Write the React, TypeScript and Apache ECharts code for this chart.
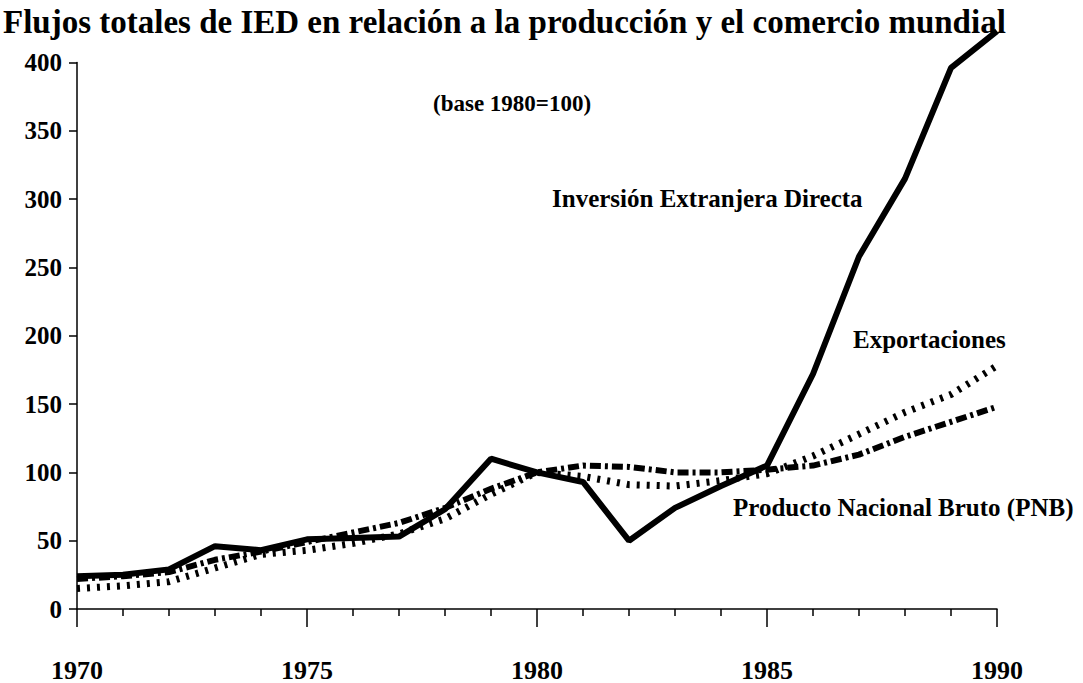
import React, { useEffect, useRef } from "react";
import * as echarts from "echarts";

const years = [1970, 1971, 1972, 1973, 1974, 1975, 1976, 1977, 1978, 1979, 1980, 1981, 1982, 1983, 1984, 1985, 1986, 1987, 1988, 1989, 1990];
const ied = [24, 25, 29, 46, 43, 51, 52, 53, 73, 110, 100, 93, 50, 74, 90, 105, 172, 258, 315, 396, 423];
const exportaciones = [15, 17, 20, 30, 40, 43, 48, 55, 66, 84, 100, 97, 91, 90, 94, 99, 112, 128, 144, 157, 178];
const pnb = [22, 24, 27, 36, 42, 49, 56, 63, 74, 88, 100, 105, 104, 100, 100, 102, 105, 113, 126, 137, 148];

const titleText = "Flujos totales de IED en relación a la producción y el comercio mundial";
const baseText = "(base 1980=100)";
const labelIED = "Inversión Extranjera Directa";
const labelExp = "Exportaciones";
const labelPNB = "Producto Nacional Bruto (PNB)";

const FONT = "'Liberation Serif', 'Times New Roman', serif";

export default function App() {
  const ref = useRef<HTMLDivElement>(null);
  useEffect(() => {
    if (!ref.current) return;
    const chart = echarts.init(ref.current, null, { renderer: "svg" });
    const pair = (arr: number[]) => years.map((y, i) => [y, arr[i]]);
    chart.setOption({
      animation: false,
      backgroundColor: "#fff",
      title: {
        text: titleText,
        left: 3,
        top: 5,
        padding: 0,
        textStyle: { fontFamily: FONT, fontSize: 33, fontWeight: "bold", color: "#000" },
      },
      grid: { left: 77, right: 86, top: 62.5, bottom: 68.5, containLabel: false },
      xAxis: {
        type: "value",
        min: 1970,
        max: 1990,
        interval: 5,
        axisLine: { show: true, lineStyle: { color: "#000", width: 1.5 } },
        axisTick: { show: true, length: 18, lineStyle: { color: "#000", width: 1.5 } },
        minorTick: { show: true, splitNumber: 5, length: 7, lineStyle: { color: "#000", width: 1.5 } },
        splitLine: { show: false },
        axisLabel: {
          margin: 48,
          fontFamily: FONT,
          fontSize: 26,
          fontWeight: "bold",
          color: "#000",
          formatter: (v: number) => String(v),
        },
      },
      yAxis: {
        type: "value",
        min: 0,
        max: 400,
        interval: 50,
        axisLine: { show: true, lineStyle: { color: "#000", width: 1.5 } },
        axisTick: { show: true, length: 8, lineStyle: { color: "#000", width: 1.5 } },
        splitLine: { show: false },
        axisLabel: {
          margin: 15,
          fontFamily: FONT,
          fontSize: 25,
          fontWeight: "bold",
          color: "#000",
        },
      },
      series: [
        {
          name: labelExp,
          type: "line",
          data: pair(exportaciones),
          symbol: "none",
          clip: false,
          lineStyle: { color: "#000", width: 7, type: [3, 7] },
          z: 2,
        },
        {
          name: labelPNB,
          type: "line",
          data: pair(pnb),
          symbol: "none",
          clip: false,
          lineStyle: { color: "#000", width: 6, type: [11, 4, 3, 4] },
          z: 3,
        },
        {
          name: labelIED,
          type: "line",
          data: pair(ied),
          symbol: "none",
          clip: false,
          lineStyle: { color: "#000", width: 6 },
          z: 4,
        },
      ],
      graphic: [
        {
          type: "text",
          left: 433,
          top: 92,
          style: { text: baseText, fontFamily: FONT, fontSize: 23, fontWeight: "bold", fill: "#000" },
        },
        {
          type: "text",
          left: 552,
          top: 186,
          style: { text: labelIED, fontFamily: FONT, fontSize: 25, fontWeight: "bold", fill: "#000" },
        },
        {
          type: "text",
          left: 853,
          top: 327,
          style: { text: labelExp, fontFamily: FONT, fontSize: 25, fontWeight: "bold", fill: "#000" },
        },
        {
          type: "text",
          left: 733,
          top: 495,
          style: { text: labelPNB, fontFamily: FONT, fontSize: 25, fontWeight: "bold", fill: "#000" },
        },
      ],
    });
    return () => chart.dispose();
  }, []);
  return (
    <div
      ref={ref}
      style={{ position: "fixed", left: 0, top: 0, width: 1083, height: 683, background: "#fff" }}
    />
  );
}
